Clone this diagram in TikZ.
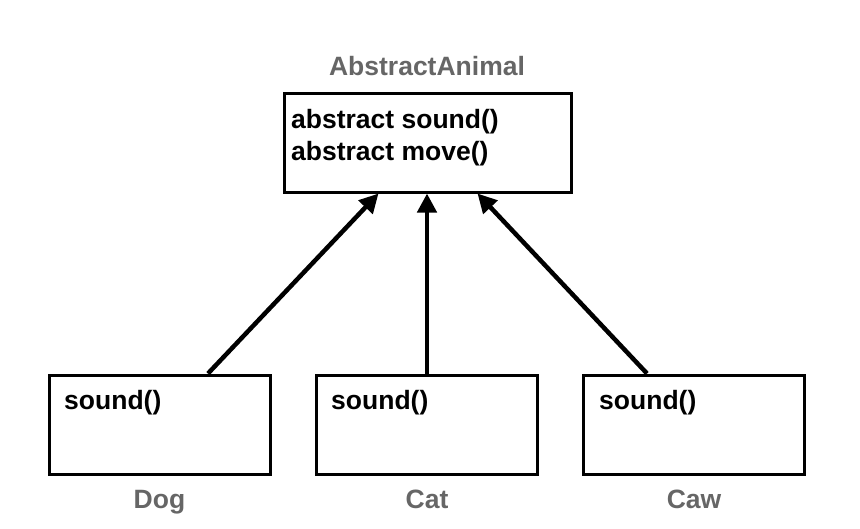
\documentclass[tikz,border=0pt]{standalone}
\usepackage{fontspec}
\setmainfont{Liberation Sans}
\usepackage{tikz}
\usetikzlibrary{arrows.meta,positioning,calc}
\definecolor{labelgray}{RGB}{102,102,102}

\begin{document}
\begin{tikzpicture}[x=1pt, y=-1pt, >={Triangle[length=19pt,width=19pt]},
  box/.style={draw, line width=3pt, minimum width=221pt, minimum height=99pt, inner sep=0pt},
  txt/.style={anchor=base west, inner sep=0pt, font=\fontsize{26.5}{32}\selectfont\bfseries},
  classname/.style={anchor=base, inner sep=0pt, text=labelgray, font=\fontsize{26.5}{32}\selectfont\bfseries},
  arr/.style={->, line width=4.5pt}]

\useasboundingbox (0,0) rectangle (860,528);

% abstract class
\node[classname] (animaltitle) at (427,75) {AbstractAnimal};
\node[box, minimum width=287pt] (animal) at (427.5,142.5) {};
\node[txt] (animalsound) at (291,128) {abstract sound()};
\node[txt] (animalmove) at (291,160) {abstract move()};

% subclasses
\node[box] (dog) at (159.5,424.5) {};
\node[txt] (dogsound) at (64,409) {sound()};
\node[classname] (dogname) at (159.5,508) {Dog};

\node[box] (cat) at (427,424.5) {};
\node[txt] (catsound) at (331,409) {sound()};
\node[classname] (catname) at (427,508) {Cat};

\node[box] (caw) at (694,424.5) {};
\node[txt] (cawsound) at (599,409) {sound()};
\node[classname] (cawname) at (694,508) {Caw};

% inheritance arrows
\draw[arr] ($(dog.north)+(48.5,0)$) -- ($(animal.south)+(-49,0)$);
\draw[arr] (cat.north) -- (cat.north |- animal.south);
\draw[arr] ($(caw.north)+(-47,0)$) -- ($(animal.south)+(50,0)$);

\end{tikzpicture}
\end{document}
